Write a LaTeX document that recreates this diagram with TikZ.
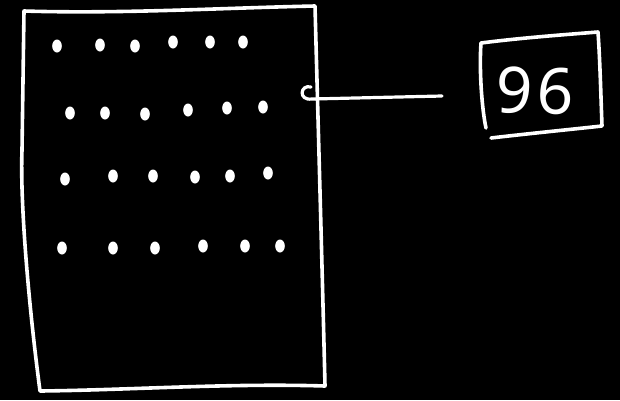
\documentclass[tikz,border=0pt]{standalone}
\usepackage{fontspec}
\setmainfont{Noto Sans}
\begin{document}
\begin{tikzpicture}[x=1pt,y=-1pt,
  ink/.style={draw=white,line width=3.6pt,line cap=round,line join=round}]
\fill[black] (0,0) rectangle (620,400);
\useasboundingbox (0,0) rectangle (620,400);
% sheet outline
\draw[ink] (24,11) .. controls (120,14) and (220,8) .. (315,6)
  .. controls (318,120) and (322,260) .. (325,386)
  .. controls (230,383) and (130,390) .. (40,391)
  .. controls (28,300) and (20,200) .. (22,150) -- cycle;
% dots
\foreach \x/\y in {57/46,100/45,135/46,173/42,210/42,243/42,
                   70/113,105/113,145/114,188/110,227/108,263/107,
                   65/179,113/176,153/176,195/177,230/176,268/173,
                   62/248,113/248,155/248,203/246,245/246,280/246}
  \fill[white] (\x,\y) ellipse [x radius=4.8, y radius=6.5];
% label box
\node[text=white,font=\fontsize{64}{64}\selectfont,inner sep=0pt,rotate=-2] (num) at (535,91) {9\kern4pt 6};
\draw[ink] (481,43) .. controls (520,38) and (560,35) .. (598,32)
  .. controls (600,60) and (601,100) .. (602,126)
  .. controls (565,130) and (525,134) .. (491,138);
\draw[ink] (481,43) .. controls (479,70) and (482,110) .. (486,128);
% connector
\coordinate (hook) at (311,87);
\coordinate (lend) at (442,96);
\draw[ink,line width=3.2pt] (hook) .. controls (300,84) and (298,101) .. (312,99) -- (lend);
\end{tikzpicture}
\end{document}
